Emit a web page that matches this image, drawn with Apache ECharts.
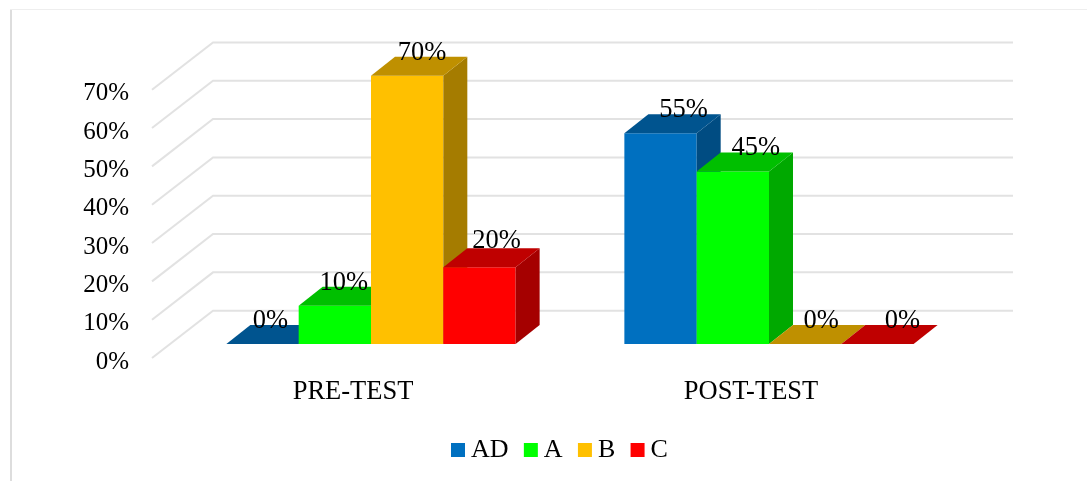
<!DOCTYPE html>
<html>
<head>
<meta charset="utf-8">
<style>html,body{margin:0;padding:0;background:#fff}#c{width:1087px;height:481px}</style>
<script src="https://cdn.jsdelivr.net/npm/echarts@6/dist/echarts.min.js"></script>
</head>
<body>
<div id="c"></div>
<script>
var categories = ['PRE-TEST', 'POST-TEST'];
var seriesNames = ['AD', 'A', 'B', 'C'];
var valuesAD = [0, 55];
var valuesA = [10, 45];
var valuesB = [70, 0];
var valuesC = [20, 0];
var yTicks = [0, 10, 20, 30, 40, 50, 60, 70];

var FONT = '"Liberation Serif","Times New Roman",serif';
var allValues = [valuesAD, valuesA, valuesB, valuesC];
var frontColors = ['#0070C0', '#00FF00', '#FFC000', '#FF0000'];
var topColors = ['#00548F', '#00BF00', '#BF9000', '#BF0000'];
var sideColors = ['#004C82', '#00A900', '#A57C00', '#A50000'];
// hand-placed data-label shifts [series][category]
var labelDx = [[8, 23], [9, 23], [15, 16], [17, 25]];
var labelDy = [[23, 23], [23, 23], [23, 23], [26, 23]];

function barItem(s) {
  return function (params, api) {
    var cat = api.value(0), val = api.value(1);
    var band = api.size([1, 0])[0];
    var w = band * 0.1817;
    var c = api.coord([cat, val]);
    var base = api.coord([cat, 0])[1];
    var x0 = c[0] + (s - 2) * w, x1 = x0 + w, y = c[1];
    var dx = 24, dy = 19;
    var kids = [];
    if (val > 0) {
      kids.push({type: 'rect', shape: {x: x0, y: y, width: w, height: base - y}, style: {fill: frontColors[s]}});
      kids.push({type: 'polygon', shape: {points: [[x1, y], [x1 + dx, y - dy], [x1 + dx, base - dy], [x1, base]]}, style: {fill: sideColors[s]}});
    }
    kids.push({type: 'polygon', shape: {points: [[x0, y], [x1, y], [x1 + dx, y - dy], [x0 + dx, y - dy]]}, style: {fill: topColors[s]}});
    kids.push({type: 'text', z2: 100, style: {
      text: val + '%', x: x0 + w / 2 + labelDx[s][cat], y: y - labelDy[s][cat],
      align: 'center', verticalAlign: 'middle', fill: '#000', font: '26.5px ' + FONT
    }});
    return {type: 'group', children: kids};
  };
}

function wallItem(params, api) {
  var v = api.value(0);
  var r = params.coordSys;
  var y = api.coord([0, v])[1];
  return {type: 'polyline', shape: {points: [
    [r.x - 20, y + 14], [r.x + 41, y - 33.3], [r.x + r.width + 45, y - 33.3]
  ]}, style: {fill: null, stroke: '#E2E2E2', lineWidth: 2}};
}

var series = [{
  type: 'custom', name: 'walls', z: 1, silent: true,
  renderItem: wallItem, data: yTicks.map(function (t) { return [t]; }),
  encode: {y: 0}
}];
seriesNames.forEach(function (name, s) {
  series.push({
    type: 'custom', name: name, z: 2,
    itemStyle: {color: frontColors[s]},
    renderItem: barItem(s),
    encode: {x: 0, y: 1},
    data: allValues[s].map(function (v, i) { return [i, v]; })
  });
});

var chart = echarts.init(document.getElementById('c'), null, {renderer: 'canvas'});
chart.setOption({
  animation: false,
  backgroundColor: '#fff',
  grid: {left: 172, top: 75.7, width: 796, height: 268.3},
  xAxis: {
    type: 'category', data: categories,
    axisLine: {show: false}, axisTick: {show: false}, splitLine: {show: false},
    axisLabel: {color: '#000', fontFamily: FONT, fontSize: 26.5, margin: 35, padding: [0, 36, 0, 0]}
  },
  yAxis: {
    type: 'value', min: 0, max: 70, interval: 10,
    axisLine: {show: false}, axisTick: {show: false}, splitLine: {show: false},
    axisLabel: {color: '#000', fontFamily: FONT, fontSize: 25, margin: 43, verticalAlign: 'top', lineHeight: 36, formatter: '{value}%'}
  },
  legend: {
    data: seriesNames, left: 446, top: 432, icon: 'rect',
    itemWidth: 14, itemHeight: 14, itemGap: 15.3,
    textStyle: {color: '#000', fontFamily: FONT, fontSize: 26, padding: [0, 0, 0, 1]}
  },
  graphic: [
    {type: 'line', shape: {x1: 11, y1: 9, x2: 11, y2: 481}, style: {stroke: '#DDDDDD', lineWidth: 2}},
    {type: 'line', shape: {x1: 10, y1: 9.5, x2: 1087, y2: 9.5}, style: {stroke: '#EEEEEE', lineWidth: 1}}
  ],
  series: series
});
</script>
</body>
</html>
